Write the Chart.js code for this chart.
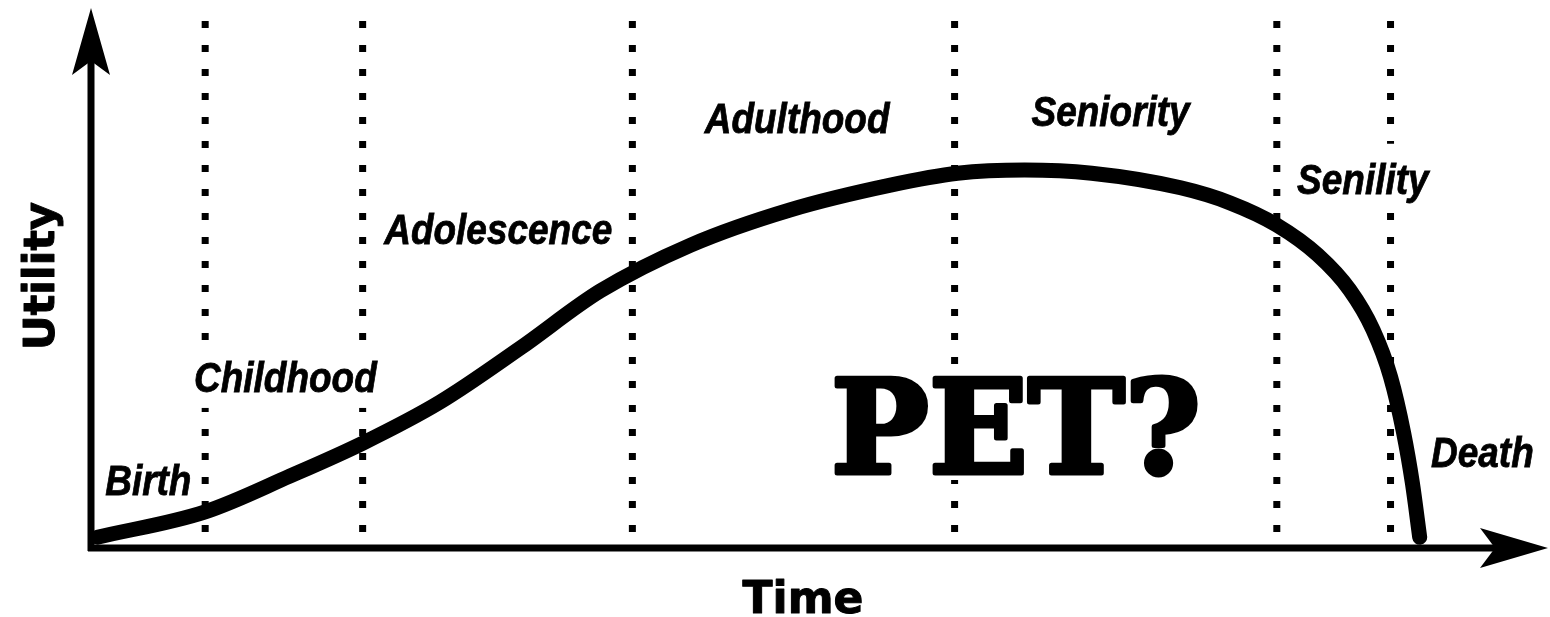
<!DOCTYPE html>
<html lang="en">
<head>
  <meta charset="UTF-8">
  <title>Utility over Time</title>
  <script src="https://cdn.jsdelivr.net/npm/chart.js"></script>
  <style>
    body {
      margin: 0;
      background: #ffffff;
    }
    canvas {
      display: block;
    }
  </style>
</head>
<body>
  <canvas id="lifeChart" width="1550" height="617"></canvas>

  <script>
    // curve (time 0-100, utility 0-100)
    var timeX = [0.5, 7.9, 13.7, 18.7, 24.0, 29.5, 35.0, 41.2, 48.0, 54.9, 59.5, 64.1,
                 68.7, 74.8, 78.2, 81.4, 84.2, 86.4, 88.0, 89.2, 90.1, 90.7, 91.2];
    var utilityY = [2.0, 6.7, 13.3, 19.4, 27.0, 37.0, 47.6, 56.1, 62.6, 67.2, 69.4, 70.0,
                    69.4, 66.7, 63.9, 59.8, 54.3, 47.8, 40.4, 31.7, 21.3, 12.0, 2.0];

    // dotted phase boundaries
    var boundaryX = [7.9, 18.7, 37.2, 59.3, 81.4, 89.2];
    var boundaryTop = 97.6;
    var boundaryBottom = 2.8;

    // phase names
    var phaseNames = ['Birth', 'Childhood', 'Adolescence', 'Adulthood', 'Seniority', 'Senility', 'Death'];

    var xTitle = 'Time';
    var yTitle = 'Utility';
    var bigText = 'PET?';

    // where the phase names sit (center x, baseline y, in chart units)
    var phaseLabelX = [4.0, 13.4, 28.0, 48.5, 70.0, 87.3, 95.5];
    var phaseLabelY = [9.8, 28.9, 56.3, 76.9, 78.1, 65.6, 15.0];

    var LABEL_FONT = 'italic bold 42px "Liberation Sans", Arial, sans-serif';
    var LABEL_SQUEEZE = 0.88;

    var ctx = document.getElementById('lifeChart').getContext('2d');

    var datasets = [{
      label: 'Utility',
      data: timeX.map(function (t, i) { return { x: t, y: utilityY[i] }; }),
      borderColor: '#000',
      borderWidth: 15,
      borderCapStyle: 'round',
      borderJoinStyle: 'round',
      cubicInterpolationMode: 'monotone',
      pointRadius: 0,
      fill: false,
      order: 0
    }];

    boundaryX.forEach(function (bx, i) {
      datasets.push({
        label: 'boundary' + i,
        data: [{ x: bx, y: boundaryTop }, { x: bx, y: boundaryBottom }],
        borderColor: '#000',
        borderWidth: 7,
        borderDash: [7, 17],
        borderCapStyle: 'butt',
        pointRadius: 0,
        tension: 0,
        fill: false,
        order: 1
      });
    });

    // axes with arrow heads
    var axesPlugin = {
      id: 'axesPlugin',
      beforeDatasetsDraw: function (chart) {
        var c = chart.ctx;
        var a = chart.chartArea;
        var ox = a.left + 1;
        var oy = a.bottom;
        c.save();
        c.fillStyle = '#000';
        c.strokeStyle = '#000';
        c.lineWidth = 7;
        c.beginPath();
        c.moveTo(ox, oy + 3);
        c.lineTo(ox, a.top + 40);
        c.moveTo(ox - 3, oy);
        c.lineTo(a.right - 40, oy);
        c.stroke();

        // y arrow
        c.beginPath();
        c.moveTo(ox, a.top);
        c.lineTo(ox + 19, a.top + 67);
        c.lineTo(ox, a.top + 53);
        c.lineTo(ox - 19, a.top + 67);
        c.closePath();
        c.fill();

        // x arrow
        c.beginPath();
        c.moveTo(a.right, oy);
        c.lineTo(a.right - 68, oy - 20);
        c.lineTo(a.right - 53, oy);
        c.lineTo(a.right - 68, oy + 20);
        c.closePath();
        c.fill();
        c.restore();
      }
    };

    // phase names, axis titles and the big PET?
    var textPlugin = {
      id: 'textPlugin',
      // white boxes go over the dotted lines but under the curve
      beforeDatasetDraw: function (chart, args) {
        if (args.index !== 0) return;
        var c = chart.ctx;
        c.save();
        c.font = LABEL_FONT;
        c.fillStyle = '#fff';
        phaseNames.forEach(function (name, i) {
          var px = chart.scales.x.getPixelForValue(phaseLabelX[i]);
          var py = chart.scales.y.getPixelForValue(phaseLabelY[i]);
          var w = c.measureText(name).width * LABEL_SQUEEZE;
          c.fillRect(px - w / 2 - 4, py - 50, w + 8, 66);
        });
        c.restore();
      },
      afterDatasetsDraw: function (chart) {
        var c = chart.ctx;
        var xs = chart.scales.x;
        var ys = chart.scales.y;
        c.save();
        c.textAlign = 'center';
        c.textBaseline = 'alphabetic';

        c.font = LABEL_FONT;
        phaseNames.forEach(function (name, i) {
          var px = xs.getPixelForValue(phaseLabelX[i]);
          var py = ys.getPixelForValue(phaseLabelY[i]);
          c.save();
          c.translate(px, py);
          c.scale(LABEL_SQUEEZE, 1);
          c.fillStyle = '#000';
          c.strokeStyle = '#000';
          c.lineWidth = 0.8;
          c.fillText(name, 0, 0);
          c.strokeText(name, 0, 0);
          c.restore();
        });

        // PET? - white halo over the dotted line, then a heavy black face
        c.font = 'bold 130px "DejaVu Serif", serif';
        c.lineJoin = 'round';
        c.lineWidth = 14;
        c.strokeStyle = '#fff';
        c.strokeText(bigText, 1016, 473);
        c.lineWidth = 5;
        c.strokeStyle = '#000';
        c.strokeText(bigText, 1016, 473);
        c.fillStyle = '#000';
        c.fillText(bigText, 1016, 473);

        // axis titles
        c.font = 'bold 44px "DejaVu Sans", sans-serif';
        c.lineWidth = 1;
        c.strokeStyle = '#000';
        c.fillText(xTitle, 803, 613);
        c.strokeText(xTitle, 803, 613);
        c.save();
        c.translate(54, 276);
        c.rotate(-Math.PI / 2);
        c.font = 'bold 43px "DejaVu Sans", sans-serif';
        c.fillText(yTitle, 0, 0);
        c.strokeText(yTitle, 0, 0);
        c.restore();

        c.restore();
      }
    };

    var lifeChart = new Chart(ctx, {
      type: 'line',
      data: { datasets: datasets },
      options: {
        responsive: false,
        animation: false,
        maintainAspectRatio: false,
        layout: {
          padding: { left: 90, right: 2, top: 8, bottom: 69 }
        },
        scales: {
          x: { type: 'linear', min: 0, max: 100, display: false },
          y: { min: 0, max: 100, display: false }
        },
        plugins: {
          legend: { display: false },
          tooltip: { enabled: false }
        }
      },
      plugins: [axesPlugin, textPlugin]
    });
  </script>
</body>
</html>
